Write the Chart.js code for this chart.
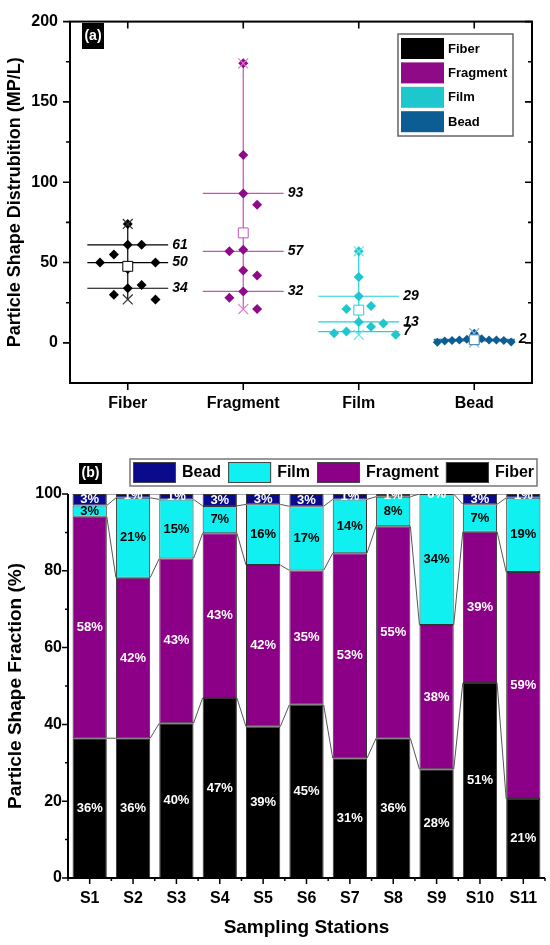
<!DOCTYPE html>
<html>
<head>
<meta charset="utf-8">
<script src="https://cdn.jsdelivr.net/npm/chart.js@4.4.1/dist/chart.umd.min.js"></script>
<style>
  html, body { margin: 0; padding: 0; background: #fff; }
  #wrapA { position: absolute; left: 0; top: 0; width: 550px; height: 430px; }
  #wrapB { position: absolute; left: 0; top: 440px; width: 550px; height: 505px; }
</style>
</head>
<body>
<div id="wrapA"><canvas id="shapeDist"></canvas></div>
<div id="wrapB"><canvas id="shapeFrac"></canvas></div>
<script>
// panel (a): MP/L of each shape at the 11 stations
const shapes = ['Fiber', 'Fragment', 'Film', 'Bead'];
const fiberMPL = [74, 61, 61, 55, 50, 50, 46, 36, 34, 30, 27];
const fragmentMPL = [174, 117, 93, 86, 58, 57, 45, 42, 32, 28, 21];
const filmMPL = [57, 41, 29, 23, 21, 13, 12, 10, 7, 6, 5];
const beadMPL = [6, 2.6, 2.2, 1.8, 1.8, 1.8, 1.5, 1.5, 1.2, 0.5, 0.3];
const yTicksA = [0, 50, 100, 150, 200];

// panel (b): shape fraction per station (%)
const stations = ['S1', 'S2', 'S3', 'S4', 'S5', 'S6', 'S7', 'S8', 'S9', 'S10', 'S11'];
const fiberPct = [36.4, 36.4, 40.3, 46.9, 39.4, 45.1, 31.2, 36.4, 28.3, 50.8, 20.6];
const fragmentPct = [57.7, 41.8, 42.9, 42.9, 42.1, 35.0, 53.4, 55.2, 37.6, 39.4, 59.1];
const filmPct = [2.9, 20.8, 15.4, 7.1, 15.8, 16.7, 14.0, 7.7, 34.1, 7.1, 19.3];
const beadPct = [3.0, 1.0, 1.4, 3.1, 2.7, 3.2, 1.4, 0.7, 0.0, 2.7, 1.0];

const FONT = "'Liberation Sans', Arial, sans-serif";
Chart.defaults.font.family = FONT;
Chart.defaults.color = '#000';

const colA = {
  point: ['#000000', '#8E0A86', '#1EC6CE', '#0B5D94'],
  line: ['#000000', '#C850C0', '#20D2D8', '#2F78AA'],
  extreme: ['#333333', '#D77AD2', '#6FE2E6', '#86AFD0']
};
const colB = { Fiber: '#000000', Fragment: '#8B0086', Film: '#10F0F0', Bead: '#0A0A8C' };

function quantile(sorted, p) {
  const pos = p * (sorted.length + 1) - 1;
  const lo = Math.max(0, Math.min(sorted.length - 1, Math.floor(pos)));
  const hi = Math.min(sorted.length - 1, lo + 1);
  return sorted[lo] + (sorted[hi] - sorted[lo]) * (pos - lo);
}

// simple column swarm so overlapping values spread sideways
function swarm(vals, cx, gap) {
  const placed = [];
  vals.forEach(v => {
    const free = k => !placed.some(p => p.k === k && Math.abs(p.v - v) < gap);
    let k = 0;
    if (!free(0)) {
      for (let n = 1; ; n++) {
        const r = free(n), l = free(-n);
        if (r && l) {
          const right = placed.filter(p => p.k > 0).length;
          const left = placed.filter(p => p.k < 0).length;
          k = right <= left ? n : -n;
          break;
        }
        if (r) { k = n; break; }
        if (l) { k = -n; break; }
      }
    }
    placed.push({ k, v });
  });
  const maxK = Math.max(1, ...placed.map(p => Math.abs(p.k)));
  const step = Math.min(0.12, 0.32 / maxK);
  return placed.map(p => ({ x: cx + p.k * step, y: p.v }));
}

const seriesA = [fiberMPL, fragmentMPL, filmMPL, beadMPL];
const halfW = 0.35;
const statsA = [];
const dsA = [];
seriesA.forEach((vals, i) => {
  const cx = i + 1;
  const s = [...vals].sort((a, b) => a - b);
  const st = {
    min: s[0], max: s[s.length - 1],
    q1: quantile(s, 0.25), med: quantile(s, 0.5), q3: quantile(s, 0.75),
    mean: vals.reduce((a, b) => a + b, 0) / vals.length
  };
  statsA.push(st);
  const line = colA.line[i];
  dsA.push({ data: [{ x: cx, y: st.mean }], pointStyle: 'rect', pointRadius: 7,
    backgroundColor: '#fff', borderColor: line, borderWidth: 1, order: 0 });
  dsA.push({ data: [{ x: cx, y: st.max }, { x: cx, y: st.min }], pointStyle: 'crossRot', pointRadius: 7,
    borderColor: colA.extreme[i], borderWidth: 1.2, order: 1 });
  dsA.push({ data: swarm(vals, cx, 12), pointStyle: 'rectRot', pointRadius: i === 3 ? 4.5 : 5,
    backgroundColor: colA.point[i], borderColor: colA.point[i], borderWidth: 0, order: 2 });
  dsA.push({ data: [{ x: cx, y: st.min }, { x: cx, y: st.max }], showLine: true, pointRadius: 0,
    borderColor: line, borderWidth: 1.2, order: 3 });
  [st.q3, st.med, st.q1].forEach(q => {
    dsA.push({ data: [{ x: cx - halfW, y: q }, { x: cx + halfW, y: q }], showLine: true, pointRadius: 0,
      borderColor: line, borderWidth: 1.2, order: 3 });
  });
});

const panelA = {
  id: 'panelA',
  afterDatasetsDraw(chart) {
    const { ctx, scales: { x, y } } = chart;
    ctx.save();
    ctx.font = 'italic bold 14px ' + FONT;
    ctx.fillStyle = '#000';
    ctx.textBaseline = 'middle';
    statsA.forEach((st, i) => {
      const px = x.getPixelForValue(i + 1 + halfW) + 4;
      const used = [];
      [st.q3, st.med, st.q1].forEach(q => {
        const py = y.getPixelForValue(q);
        if (used.some(u => Math.abs(u - py) < 9)) return;
        used.push(py);
        ctx.fillText(String(Math.round(q)), px, py);
      });
    });
    ctx.restore();
  },
  afterDraw(chart) {
    const { ctx, chartArea: a, scales: { x, y } } = chart;
    ctx.save();
    ctx.strokeStyle = '#000';
    ctx.lineWidth = 2;
    ctx.strokeRect(a.left, a.top, a.right - a.left, a.bottom - a.top);
    ctx.lineWidth = 1.6;
    ctx.beginPath();
    yTicksA.forEach((v, k) => {
      const py = y.getPixelForValue(v);
      ctx.moveTo(a.left - 7, py); ctx.lineTo(a.left, py);
      ctx.moveTo(a.right, py); ctx.lineTo(a.right - 7, py);
      if (k < yTicksA.length - 1) {
        const pm = y.getPixelForValue((v + yTicksA[k + 1]) / 2);
        ctx.moveTo(a.left - 4, pm); ctx.lineTo(a.left, pm);
        ctx.moveTo(a.right, pm); ctx.lineTo(a.right - 4, pm);
      }
    });
    shapes.forEach((s, i) => {
      const px = x.getPixelForValue(i + 1);
      ctx.moveTo(px, a.bottom); ctx.lineTo(px, a.bottom + 7);
      ctx.moveTo(px, a.top); ctx.lineTo(px, a.top + 7);
    });
    ctx.stroke();

    // (a) tag
    ctx.fillStyle = '#000';
    ctx.fillRect(82, 23, 22, 26);
    ctx.fillStyle = '#fff';
    ctx.font = 'bold 14px ' + FONT;
    ctx.textAlign = 'center';
    ctx.textBaseline = 'middle';
    ctx.fillText('(a)', 93, 36);

    // legend box
    ctx.strokeStyle = '#666';
    ctx.lineWidth = 1.5;
    ctx.strokeRect(398, 34, 115, 102);
    ctx.textAlign = 'left';
    ctx.font = 'bold 13px ' + FONT;
    shapes.forEach((s, i) => {
      const top = 38 + i * 24.4;
      ctx.fillStyle = colA.point[i];
      ctx.fillRect(401, top, 43, 21);
      ctx.fillStyle = '#000';
      ctx.fillText(s, 448, top + 11);
    });
    ctx.restore();
  }
};

new Chart(document.getElementById('shapeDist'), {
  type: 'scatter',
  data: { datasets: dsA },
  options: {
    responsive: true, maintainAspectRatio: false, animation: false, events: [],
    layout: { padding: { top: 12, right: 18, left: 0, bottom: 0 } },
    plugins: { legend: { display: false }, tooltip: { enabled: false } },
    scales: {
      x: {
        type: 'linear', min: 0.5, max: 4.5,
        grid: { display: false, drawTicks: false }, border: { display: false },
        afterBuildTicks: sc => { sc.ticks = shapes.map((s, i) => ({ value: i + 1 })); },
        afterFit: sc => { sc.height = 47; },
        ticks: { padding: 11, color: '#000', maxRotation: 0, autoSkip: false,
          font: { size: 16, weight: 'bold' }, callback: v => shapes[v - 1] }
      },
      y: {
        min: -25, max: 200,
        grid: { display: false, drawTicks: false }, border: { display: false },
        afterBuildTicks: sc => { sc.ticks = yTicksA.map(v => ({ value: v })); },
        afterFit: sc => { sc.width = 70; },
        ticks: { padding: 12, color: '#000', font: { size: 16, weight: 'bold' } },
        title: { display: true, text: 'Particle Shape Distrubition (MP/L)', color: '#000',
          font: { size: 18, weight: 'bold' }, padding: { top: 4, bottom: 0 } }
      }
    }
  },
  plugins: [panelA]
});

// ---------- panel (b)
const seriesB = [
  { name: 'Fiber', vals: fiberPct, text: '#fff' },
  { name: 'Fragment', vals: fragmentPct, text: '#fff' },
  { name: 'Film', vals: filmPct, text: '#000' },
  { name: 'Bead', vals: beadPct, text: '#fff' }
];

const panelB = {
  id: 'panelB',
  afterDatasetsDraw(chart) {
    const { ctx, chartArea: a } = chart;
    ctx.save();
    ctx.beginPath();
    ctx.rect(a.left, a.top, a.right - a.left, a.bottom - a.top);
    ctx.clip();
    // connectors between stacked tops
    ctx.strokeStyle = '#555';
    ctx.lineWidth = 1;
    ctx.beginPath();
    seriesB.forEach((sr, d) => {
      const bars = chart.getDatasetMeta(d).data;
      for (let i = 0; i < bars.length - 1; i++) {
        const b0 = bars[i].getProps(['x', 'y', 'width'], true);
        const b1 = bars[i + 1].getProps(['x', 'y', 'width'], true);
        ctx.moveTo(b0.x + b0.width / 2, b0.y);
        ctx.lineTo(b1.x - b1.width / 2, b1.y);
      }
    });
    ctx.stroke();
    // percentage labels
    ctx.font = 'bold 13px ' + FONT;
    ctx.textAlign = 'center';
    ctx.textBaseline = 'middle';
    seriesB.forEach((sr, d) => {
      ctx.fillStyle = sr.text;
      chart.getDatasetMeta(d).data.forEach((bar, i) => {
        const p = bar.getProps(['x', 'y', 'base'], true);
        ctx.fillText(Math.round(sr.vals[i]) + '%', p.x, (p.y + p.base) / 2);
      });
    });
    ctx.restore();
  },
  afterDraw(chart) {
    const { ctx, chartArea: a, scales: { x, y } } = chart;
    ctx.save();
    ctx.strokeStyle = '#000';
    ctx.lineWidth = 2;
    ctx.beginPath();
    ctx.moveTo(a.left, a.top); ctx.lineTo(a.left, a.bottom); ctx.lineTo(a.right, a.bottom);
    ctx.stroke();
    ctx.lineWidth = 1.5;
    ctx.beginPath();
    for (let v = 0; v <= 100; v += 10) {
      const py = y.getPixelForValue(v);
      const len = v % 20 === 0 ? 6 : 3;
      ctx.moveTo(a.left - len, py); ctx.lineTo(a.left, py);
    }
    const step = (a.right - a.left) / stations.length;
    stations.forEach((s, i) => {
      const px = x.getPixelForValue(i);
      ctx.moveTo(px, a.bottom); ctx.lineTo(px, a.bottom + 6);
      const pb = a.left + i * step;
      ctx.moveTo(pb, a.bottom); ctx.lineTo(pb, a.bottom + 3);
    });
    ctx.moveTo(a.right, a.bottom); ctx.lineTo(a.right, a.bottom + 3);
    ctx.stroke();

    // (b) tag
    ctx.fillStyle = '#000';
    ctx.fillRect(79, 23, 23, 21);
    ctx.fillStyle = '#fff';
    ctx.font = 'bold 14px ' + FONT;
    ctx.textAlign = 'center';
    ctx.textBaseline = 'middle';
    ctx.fillText('(b)', 90.5, 33.5);

    // legend row: reversed order
    ctx.strokeStyle = '#777';
    ctx.lineWidth = 1.5;
    ctx.strokeRect(130, 19, 407, 27);
    ctx.font = 'bold 16px ' + FONT;
    ctx.textAlign = 'left';
    let lx = 133;
    [...seriesB].reverse().forEach(sr => {
      ctx.fillStyle = colB[sr.name];
      ctx.fillRect(lx, 22, 43, 21);
      ctx.strokeStyle = '#444';
      ctx.lineWidth = 1;
      ctx.strokeRect(lx + 0.5, 22.5, 42, 20);
      ctx.fillStyle = '#000';
      ctx.fillText(sr.name, lx + 49, 33);
      lx += 49 + ctx.measureText(sr.name).width + 7;
    });
    ctx.restore();
  }
};

new Chart(document.getElementById('shapeFrac'), {
  type: 'bar',
  data: {
    labels: stations,
    datasets: seriesB.map(sr => ({
      label: sr.name,
      data: sr.vals,
      backgroundColor: colB[sr.name],
      borderColor: '#333',
      borderWidth: 1,
      borderSkipped: false,
      barPercentage: 0.79,
      categoryPercentage: 1
    }))
  },
  options: {
    responsive: true, maintainAspectRatio: false, animation: false, events: [],
    layout: { padding: { top: 54, right: 5, left: 0, bottom: 0 } },
    plugins: { legend: { display: false }, tooltip: { enabled: false } },
    scales: {
      x: {
        stacked: true,
        grid: { display: false, drawTicks: false }, border: { display: false },
        afterFit: sc => { sc.height = 67; },
        ticks: { padding: 11, color: '#000', maxRotation: 0, autoSkip: false, font: { size: 16, weight: 'bold' } },
        title: { display: true, text: 'Sampling Stations', color: '#000',
          font: { size: 19, weight: 'bold' }, padding: { top: 0, bottom: 6 } }
      },
      y: {
        stacked: true, min: 0, max: 100,
        grid: { display: false, drawTicks: false }, border: { display: false },
        afterFit: sc => { sc.width = 68; },
        ticks: { stepSize: 20, padding: 6, color: '#000', font: { size: 16, weight: 'bold' } },
        title: { display: true, text: 'Particle Shape Fraction (%)', color: '#000',
          font: { size: 19, weight: 'bold' }, padding: { top: 4, bottom: 0 } }
      }
    }
  },
  plugins: [panelB]
});
</script>
</body>
</html>
